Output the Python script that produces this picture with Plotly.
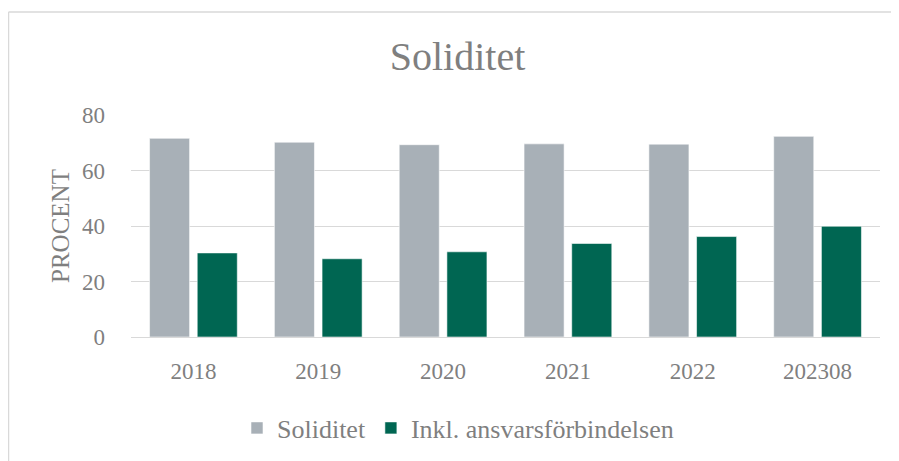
import plotly.graph_objects as go

years = ["2018", "2019", "2020", "2021", "2022", "202308"]
soliditet = [71.6, 70.2, 69.3, 69.6, 69.5, 72.3]
inkl_ansvar = [30.3, 28.2, 30.7, 33.7, 36.2, 39.9]

FONT = "Liberation Serif"
TXT = "#7f7f7f"
GRAY = "#a8b0b7"
GREEN = "#006652"

# page body has an 8px margin: work in reference pixels, shifted by the offset
OFF = 8
W, H = 899 - OFF, 461 - OFF
L, R, T, B = 131 - OFF, 899 - 880, 115 - OFF, 461 - 337
PW, PH = W - L - R, H - T - B


def px(xr):
    return (xr - OFF - L) / PW


def py(yr):
    return (H - B - (yr - OFF)) / PH


fig = go.Figure()
fig.add_trace(go.Bar(x=years, y=soliditet, name="Soliditet",
                     marker=dict(color=GRAY, line=dict(color="rgba(255,255,255,0.7)", width=0.8))))
fig.add_trace(go.Bar(x=years, y=inkl_ansvar, name="Inkl. ansvarsförbindelsen",
                     marker=dict(color=GREEN, line=dict(color="rgba(255,255,255,0.7)", width=0.8))))

fig.update_layout(
    width=W, height=H,
    margin=dict(l=L, r=R, t=T, b=B, pad=0),
    paper_bgcolor="white", plot_bgcolor="white",
    barmode="group", bargap=0.236, bargroupgap=0.16,
    font=dict(family=FONT, color=TXT, size=23),
    title=dict(text="Soliditet", font=dict(family=FONT, size=40, color=TXT),
               x=(457.5 - OFF) / W, xref="container", xanchor="center",
               y=1 - (56 - OFF) / H, yref="container", yanchor="middle"),
    showlegend=True,
    legend=dict(orientation="h", xref="container", yref="container",
                x=(458 - OFF) / W, xanchor="center", y=1 - (428 - OFF) / H, yanchor="middle",
                font=dict(family=FONT, size=26, color=TXT), bgcolor="rgba(0,0,0,0)"),
    xaxis=dict(showgrid=False, showline=False, zeroline=False, ticks="",
               tickfont=dict(family=FONT, size=23, color=TXT), ticklabelstandoff=18),
    yaxis=dict(range=[0, 80], tickvals=[0, 20, 40, 60, 80], showgrid=True,
               gridcolor="#d9d9d9", gridwidth=1.3, zeroline=True, zerolinecolor="#d9d9d9",
               zerolinewidth=1.3, showline=False, ticks="",
               tickfont=dict(family=FONT, size=23, color=TXT), ticklabelstandoff=25),
    annotations=[dict(text="PROCENT", textangle=-90, xref="paper", yref="paper",
                      x=px(60), y=py(226), xanchor="center", yanchor="middle",
                      showarrow=False, font=dict(family=FONT, size=25, color=TXT))],
    shapes=[
        dict(type="line", xref="paper", yref="paper",
             x0=px(8.5), x1=px(910), y0=py(12), y1=py(12),
             line=dict(color="#d9d9d9", width=1.5)),
        dict(type="line", xref="paper", yref="paper",
             x0=px(8.5), x1=px(8.5), y0=py(12), y1=py(470),
             line=dict(color="#d9d9d9", width=1.5)),
    ],
)

fig.write_html("out.html")
